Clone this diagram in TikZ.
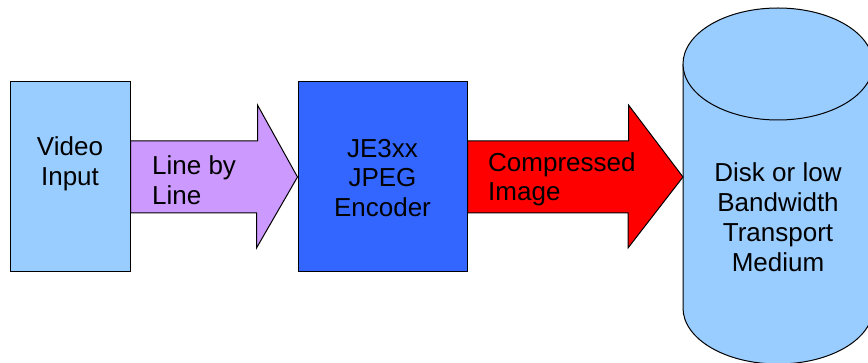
\documentclass[tikz,border=0pt]{standalone}
\usepackage{fontspec}
\setmainfont{Liberation Sans}
\usepackage{tikz}
\usetikzlibrary{calc}
\definecolor{myskyblue}{HTML}{99CCFF}
\definecolor{mypurple}{HTML}{CC99FF}
\definecolor{myblue}{HTML}{3366FF}
\definecolor{myred}{HTML}{FF0000}

\begin{document}
\begin{tikzpicture}[x=1pt, y=-1pt,
		th/.style = {draw=black, line width = 1pt},
		box/.style = {th, inner sep=0pt, minimum width=#1, minimum height=190pt},
		lbl/.style = {inner sep=0pt, font=\fontsize{26}{29.5}\selectfont}]
		\useasboundingbox (0,0) rectangle (868,363);
		\clip (0,0) rectangle (868,363);
		\node[box=120pt, fill=myskyblue] (vin) at (70,177) {};
		\node[box=169pt, fill=myblue] (enc) at (382.5,177) {};
		\coordinate (dskw) at (683,177);
		% disk
		\draw[th, fill=myskyblue] (683,64) -- (683,308) arc[start angle=180, end angle=0, x radius=95, y radius=56] -- (873,64);
		\draw[th, fill=myskyblue] (778,64) ellipse[x radius=95, y radius=56];
		% block arrows
		\draw[th, fill=mypurple] ($(vin.east)+(0,-36)$) -- ++(127,0) -- ++(0,-36) -- (enc.west) -- ++(-41,71) -- ++(0,-35) -- ($(vin.east)+(0,36)$) -- cycle;
		\draw[th, fill=myred] ($(enc.east)+(0,-36)$) -- ++(161,0) -- ++(0,-36) -- (dskw) -- ++(-55,71) -- ++(0,-35) -- ($(enc.east)+(0,36)$) -- cycle;
		\node[lbl, align=center] (vintxt) at (70,164) {Video\\Input};
		\node[lbl, align=center] (enctxt) at (382.5,178) {JE3xx\\JPEG\\Encoder};
		\node[lbl, align=left, anchor=west] (lintxt) at (152,180) {Line by\\Line};
		\node[lbl, align=left, anchor=west] (cmptxt) at (488,179.5) {Compressed\\Image};
		\node[lbl, align=center, font=\fontsize{26}{30}\selectfont] (dsktxt) at (778,217) {Disk or low\\Bandwidth\\Transport\\Medium};
	\end{tikzpicture}
\end{document}
